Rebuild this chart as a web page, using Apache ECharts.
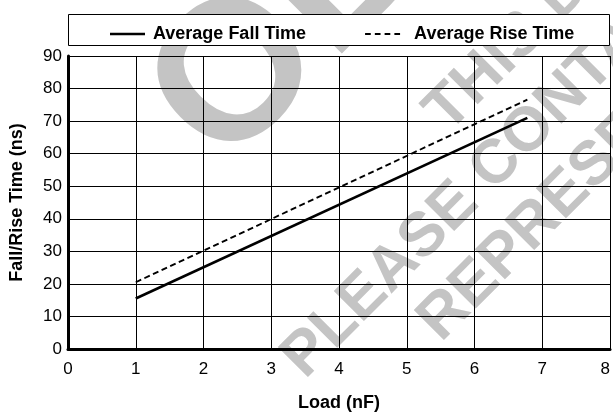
<!DOCTYPE html>
<html><head><meta charset="utf-8">
<script src="https://cdn.jsdelivr.net/npm/echarts@6/dist/echarts.min.js"></script>
<style>html,body{margin:0;padding:0;background:#fff;overflow:hidden}#c{width:613px;height:417px}</style>
</head><body><div id="c"></div>
<script>
const seriesNames = ['Average Fall Time', 'Average Rise Time'];
const loadNF = [1, 6.78];
const fallTime = [15.5, 71];
const riseTime = [20.5, 76.6];
const xAxisName = 'Load (nF)';
const yAxisName = 'Fall/Rise Time (ns)';
const watermarks = ['OBSOLETE', 'THIS DEVICE', 'PLEASE CONTACT', 'REPRESENTATIVE'];

const FONT = '"Liberation Sans", Arial, Helvetica, sans-serif';
const chart = echarts.init(document.getElementById('c'), null, {renderer: 'canvas'});
const wmColor = '#c4c4c4';
function wm(text, x, y, size) {
  return {type: 'text', x: x, y: y, rotation: Math.PI / 4, z: -10, silent: true,
    style: {text: text, x: 0, y: 0, fill: wmColor, font: 'bold ' + size + 'px ' + FONT,
      textAlign: 'left', textVerticalAlign: 'middle'}};
}
const solidIcon = 'path://M0,0h35v2.6h-35z';
const dashIcon = 'path://M0,0h6v2.2h-6z M10.3,0h6v2.2h-6z M20.6,0h6v2.2h-6z M30.9,0h6v2.2h-6z';
chart.setOption({
  backgroundColor: '#fff',
  animation: false,
  graphic: [
    wm(watermarks[0], 185, 133, 198),
    wm(watermarks[1], 436, 122, 62),
    wm(watermarks[2], 293, 368, 62),
    wm(watermarks[3], 429, 331, 62),
    {type: 'rect', z: 5, shape: {x: 68.5, y: 14.5, width: 541, height: 31},
      style: {fill: '#fff', stroke: '#000', lineWidth: 1}}
  ],
  legend: {
    z: 10,
    left: 105, top: 20,
    itemWidth: 35, itemHeight: 14, itemGap: 59,
    itemStyle: {borderWidth: 0},
    data: [
      {name: seriesNames[0], icon: solidIcon},
      {name: seriesNames[1], icon: dashIcon, textStyle: {padding: [0, 0, 0, 9]}}
    ],
    textStyle: {fontFamily: FONT, fontSize: 18, fontWeight: 'bold', color: '#000', padding: [0, 0, 0, 3]}
  },
  grid: {left: 68, top: 56, right: 0, bottom: 64, containLabel: false},
  xAxis: [{
    type: 'value', min: 0, max: 8, interval: 1,
    name: xAxisName, nameLocation: 'middle', nameGap: 45,
    nameTextStyle: {fontFamily: FONT, fontSize: 18, fontWeight: 'bold', color: '#000'},
    axisLine: {show: true, onZero: false, lineStyle: {color: '#000', width: 3}},
    axisTick: {show: false},
    axisLabel: {fontFamily: FONT, fontSize: 17, color: '#000', margin: 12, alignMaxLabel: 'right'},
    splitLine: {show: true, lineStyle: {color: '#000', width: 1}}
  }, {
    type: 'value', min: 0, max: 8, position: 'top',
    axisLine: {show: true, lineStyle: {color: '#000', width: 2}},
    axisTick: {show: false}, axisLabel: {show: false}, splitLine: {show: false}
  }],
  yAxis: {
    type: 'value', min: 0, max: 90, interval: 10,
    name: yAxisName, nameLocation: 'middle', nameGap: 42,
    nameTextStyle: {fontFamily: FONT, fontSize: 18, fontWeight: 'bold', color: '#000'},
    axisLine: {show: true, onZero: false, lineStyle: {color: '#000', width: 3}},
    axisTick: {show: false},
    axisLabel: {fontFamily: FONT, fontSize: 17, color: '#000', margin: 6},
    splitLine: {show: true, lineStyle: {color: '#000', width: 1}}
  },
  series: [{
    name: seriesNames[0], type: 'line', symbol: 'none',
    data: loadNF.map((x, i) => [x, fallTime[i]]),
    lineStyle: {color: '#000', width: 2.7, type: 'solid'},
    itemStyle: {color: '#000'}
  }, {
    name: seriesNames[1], type: 'line', symbol: 'none',
    data: loadNF.map((x, i) => [x, riseTime[i]]),
    lineStyle: {color: '#000', width: 1.9, type: [6, 3.5]},
    itemStyle: {color: '#000'}
  }]
});
</script></body></html>
